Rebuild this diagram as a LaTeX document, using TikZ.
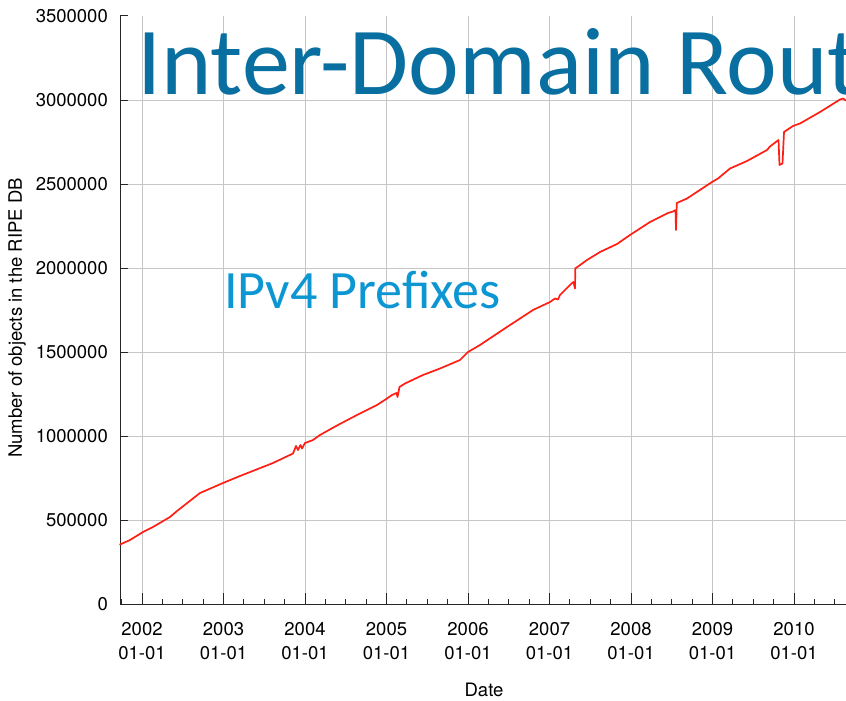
\documentclass[tikz,border=0pt]{standalone}
\usepackage{fontspec}
\setmainfont{TeX Gyre Heros}
\newfontfamily\slidefont{Carlito}
\definecolor{titleblue}{RGB}{8,111,160}
\definecolor{labelblue}{RGB}{12,150,210}
\definecolor{gridgray}{RGB}{198,198,198}
\definecolor{curvered}{RGB}{255,30,20}
\tikzset{
  gridline/.style={draw=gridgray, line width=1pt},
  axisline/.style={draw=black!85, line width=1pt},
  ticklabel/.style={inner sep=0pt, font=\fontsize{18.5}{20}\selectfont},
  dataline/.style={draw=curvered, line width=1.7pt, line join=round, line cap=round},
}
\begin{document}
\begin{tikzpicture}[x=1pt, y=-1pt]
\useasboundingbox (0,0) rectangle (846,701);
\fill[white] (0,0) rectangle (846,701);

% grid: one line per 500000 objects and one per year
\foreach \i in {0,...,6}
  \draw[gridline] (120,{604-84*\i}) -- (846,{604-84*\i});
\foreach \i in {0,...,8}
  \draw[gridline] ({142+81.5*\i},16) -- ({142+81.5*\i},604);

% axes
\draw[axisline] (120,16) -- (120,604) -- (846,604);

% y ticks and labels
\foreach \v [count=\i from 0] in {0,500000,1000000,1500000,2000000,2500000,3000000,3500000} {
  \draw[axisline] (120,{604-84*\i}) -- (128,{604-84*\i});
  \node[ticklabel, anchor=east] (ylab\i) at (108,{604-84*\i}) {\v};
}

% x ticks: years and quarters
\foreach \k in {-1,...,34} {
  \pgfmathtruncatemacro{\r}{mod(\k+4,4)}
  \ifnum\r=0
    \draw[axisline] ({142+81.5*\k/4},604) -- ({142+81.5*\k/4},593);
  \else
    \draw[axisline] ({142+81.5*\k/4},604) -- ({142+81.5*\k/4},599);
  \fi
}
\foreach \y [count=\i from 0] in {2002,...,2010} {
  \node[ticklabel] (year\i) at ({142+81.5*\i},629) {\y};
  \node[ticklabel] (day\i) at ({142+81.5*\i},653.5) {01-01};
}

% axis titles
\node[ticklabel] (xtitle) at (484,690) {Date};
\node[ticklabel, rotate=90] (ytitle) at (17,318) {Number of objects in the RIPE DB};

% data series
\draw[dataline] (120,544.5) -- (130,540) -- (143,532) -- (153,527) -- (170,517) -- (177,511)
  -- (200,493) -- (223,483) -- (240,476) -- (273,463) -- (293,453.5) -- (296,446)
  -- (298,450) -- (300.5,445) -- (302,448.5) -- (305,443) -- (313,440) -- (320,435)
  -- (337,425.5) -- (357,415) -- (377,405) -- (387,398.5) -- (392,395) -- (396.5,393)
  -- (397.5,397) -- (399.5,387) -- (405,383.5) -- (423,375) -- (440,368.5) -- (460,360)
  -- (468,352) -- (480,345) -- (507,327) -- (533,310) -- (550,302) -- (555,298.5)
  -- (558,299.5) -- (560,295) -- (571.5,283.5) -- (573.5,282) -- (575,288.5)
  -- (575.3,268.5) -- (587,260) -- (600,252) -- (617,244) -- (630,235) -- (640,228.5)
  -- (650,222) -- (668,213) -- (673,211.5) -- (675.5,210) -- (676,230) -- (676.8,203)
  -- (687,198.5) -- (712,182) -- (718,178.5) -- (730,168.5) -- (747,161) -- (767,150)
  -- (770,146.5) -- (778.5,140) -- (779.5,165) -- (782.5,163.5) -- (784,132)
  -- (793,126) -- (800,123.5) -- (820,112) -- (840,99.5) -- (843,98.5) -- (846,100.5);

% slide texts
\node[anchor=base west, inner sep=0pt, text=titleblue] (title) at (137,95)
  {\slidefont\fontsize{96}{96}\selectfont Inter-Domain Rout};
\node[anchor=base west, inner sep=0pt, text=labelblue] (series) at (224,308)
  {\slidefont\fontsize{54}{54}\selectfont IPv4 Prefixes};
\end{tikzpicture}
\end{document}
